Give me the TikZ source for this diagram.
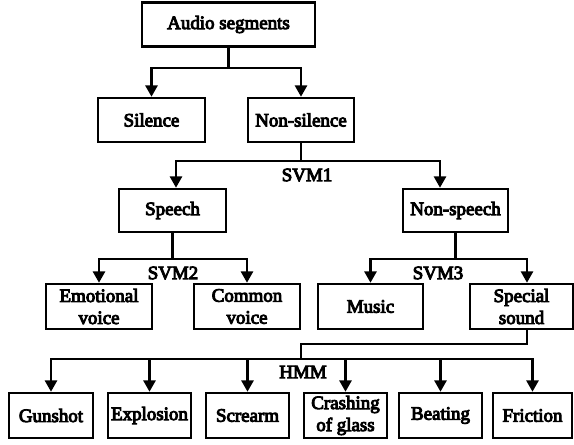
\documentclass[tikz,border=0pt]{standalone}
\usepackage{fontspec}
\setmainfont{Liberation Serif}
\newfontfamily\labfont{Liberation Serif}[FakeBold=5]
\usetikzlibrary{arrows.meta}
\begin{document}
\begin{tikzpicture}[x=0.75pt,y=-0.75pt,
  txt/.style={font=\labfont\fontsize{14.2}{16.5}\selectfont},
  box/.style={draw, line width=1.9pt, inner sep=0pt, align=center, txt},
  ln/.style={line width=1.9pt},
  arr/.style={ln, -{Triangle[length=8.5pt,width=9pt]}},
  lab/.style={inner sep=0pt, txt}]
\useasboundingbox (0,0) rectangle (574,444);
% row 1
\node[box, minimum width=129.75pt, minimum height=33pt] (audio) at (228.5,24.5) {Audio segments};
% row 2
\node[box, minimum width=80.25pt, minimum height=33pt] (sil) at (151.5,120) {Silence};
\node[box, minimum width=79.5pt, minimum height=33pt] (nons) at (301,120) {Non-silence};
% row 3
\node[box, minimum width=80.25pt, minimum height=32.25pt] (speech) at (172.5,210.5) {Speech};
\node[box, minimum width=78.75pt, minimum height=32.25pt] (nsp) at (455.5,210.5) {Non-speech};
% row 4
\node[box, minimum width=79.5pt, minimum height=33.75pt] (emo) at (99,306.5) {Emotional\\voice};
\node[box, minimum width=79.5pt, minimum height=33.75pt] (com) at (247,306.5) {Common\\voice};
\node[box, minimum width=78.75pt, minimum height=33.75pt] (music) at (370.5,306.5) {Music};
\node[box, minimum width=77pt, minimum height=33.75pt] (spec) at (521.5,306.5) {Special\\sound};
% row 5
\node[box, minimum width=63pt, minimum height=33.75pt] (gun) at (51,415.5) {Gunshot};
\node[box, minimum width=62.25pt, minimum height=33.75pt] (expl) at (149.5,415.5) {Explosion};
\node[box, minimum width=62.25pt, minimum height=33.75pt] (scr) at (247.5,415.5) {Screarm};
\node[box, minimum width=62.25pt, minimum height=33.75pt] (crash) at (345.5,415.5) {Crashing\\of glass};
\node[box, minimum width=62.25pt, minimum height=33.75pt] (beat) at (440.5,415.5) {Beating};
\node[box, minimum width=59.25pt, minimum height=33.75pt] (fric) at (532.5,415.5) {Friction};
% labels
\node[lab] (svm1) at (307,175) {SVM1};
\node[lab] (svm2) at (173,273) {SVM2};
\node[lab] (svm3) at (438,273) {SVM3};
\node[lab] (hmm) at (303,372) {HMM};
% level 1 connectors
\coordinate (b1) at (0,68);
\draw[arr] (audio.south) |- (b1 -| sil) -- (sil.north);
\draw[arr] (audio.south) |- (b1 -| nons) -- (nons.north);
% level 2
\coordinate (b2l) at (176,161);
\coordinate (b2r) at (440,161);
\draw[arr] (nons.south) |- (b2l) -- (b2l |- speech.north);
\draw[arr] (nons.south) |- (b2r) -- (b2r |- nsp.north);
% level 3
\coordinate (b3) at (0,259);
\draw[arr] (speech.south) |- (b3 -| emo) -- (emo.north);
\draw[arr] (speech.south) |- (b3 -| com) -- (com.north);
\coordinate (b4r) at (527,259);
\draw[arr] (nsp.south) |- (b3 -| music) -- (music.north);
\draw[arr] (nsp.south) |- (b4r) -- (b4r |- spec.north);
% level 4
\coordinate (b5a) at (301,344);
\coordinate (b5) at (301,359);
\draw[ln] (b4r |- spec.south) |- (b5a) -- (b5);
\draw[arr] (b5) -| (gun.north);
\draw[arr] (b5) -| (expl.north);
\draw[arr] (b5) -| (scr.north);
\draw[arr] (b5) -| (crash.north);
\draw[arr] (b5) -| (beat.north);
\draw[arr] (b5) -| (fric.north);
\end{tikzpicture}
\end{document}
